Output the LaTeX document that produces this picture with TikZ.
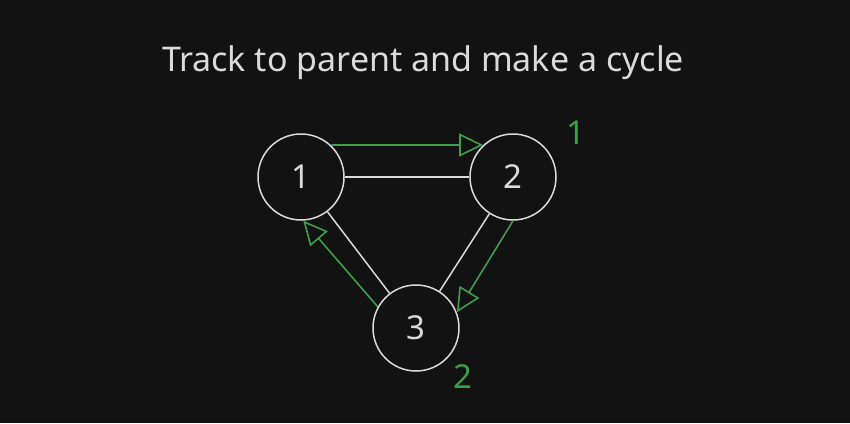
\documentclass[tikz,border=0pt]{standalone}
\usepackage{fontspec}
\setmainfont{Noto Sans}
\usetikzlibrary{arrows.meta}
\definecolor{bg}{HTML}{121212}
\definecolor{fg}{HTML}{DADADA}
\definecolor{grn}{HTML}{3E9E4C}
\tikzset{
  vertex/.style={circle, draw=fg, line width=1.5pt, minimum size=86pt, inner sep=0pt, fill=bg, text=fg, font=\fontsize{33}{36}\selectfont},
  edge/.style={draw=fg, line width=1.5pt},
  track/.style={draw=grn, line width=1.6pt, -{Triangle[open, length=24pt, width=23pt, fill=bg]}},
  lbl/.style={text=grn, font=\fontsize{33}{36}\selectfont, inner sep=0pt},
  ttl/.style={text=fg, font=\fontsize{34}{38}\selectfont, inner sep=0pt, anchor=base}
}
\begin{document}
\begin{tikzpicture}[x=1pt, y=-1pt]
\fill[bg] (0,0) rectangle (850,423);
\useasboundingbox (0,0) rectangle (850,423);
\node[ttl] (title) at (423,71) {Track to parent and make a cycle};
\node[vertex] (n1) at (301,177) {1};
\node[vertex] (n2) at (513,177) {2};
\node[vertex] (n3) at (416,328) {3};
\draw[edge] (n1) -- (n2);
\draw[edge] (n1) -- (n3);
\draw[edge] (n2) -- (n3);
\draw[track] (n1.47) -- (n2.133);
\draw[track] (n2.-90) -- (n3.21);
\draw[track] (n3.151) -- (n1.-87);
\node[lbl] (l1) at (575.5,133) {1};
\node[lbl] (l2) at (462.5,377) {2};
\end{tikzpicture}
\end{document}
